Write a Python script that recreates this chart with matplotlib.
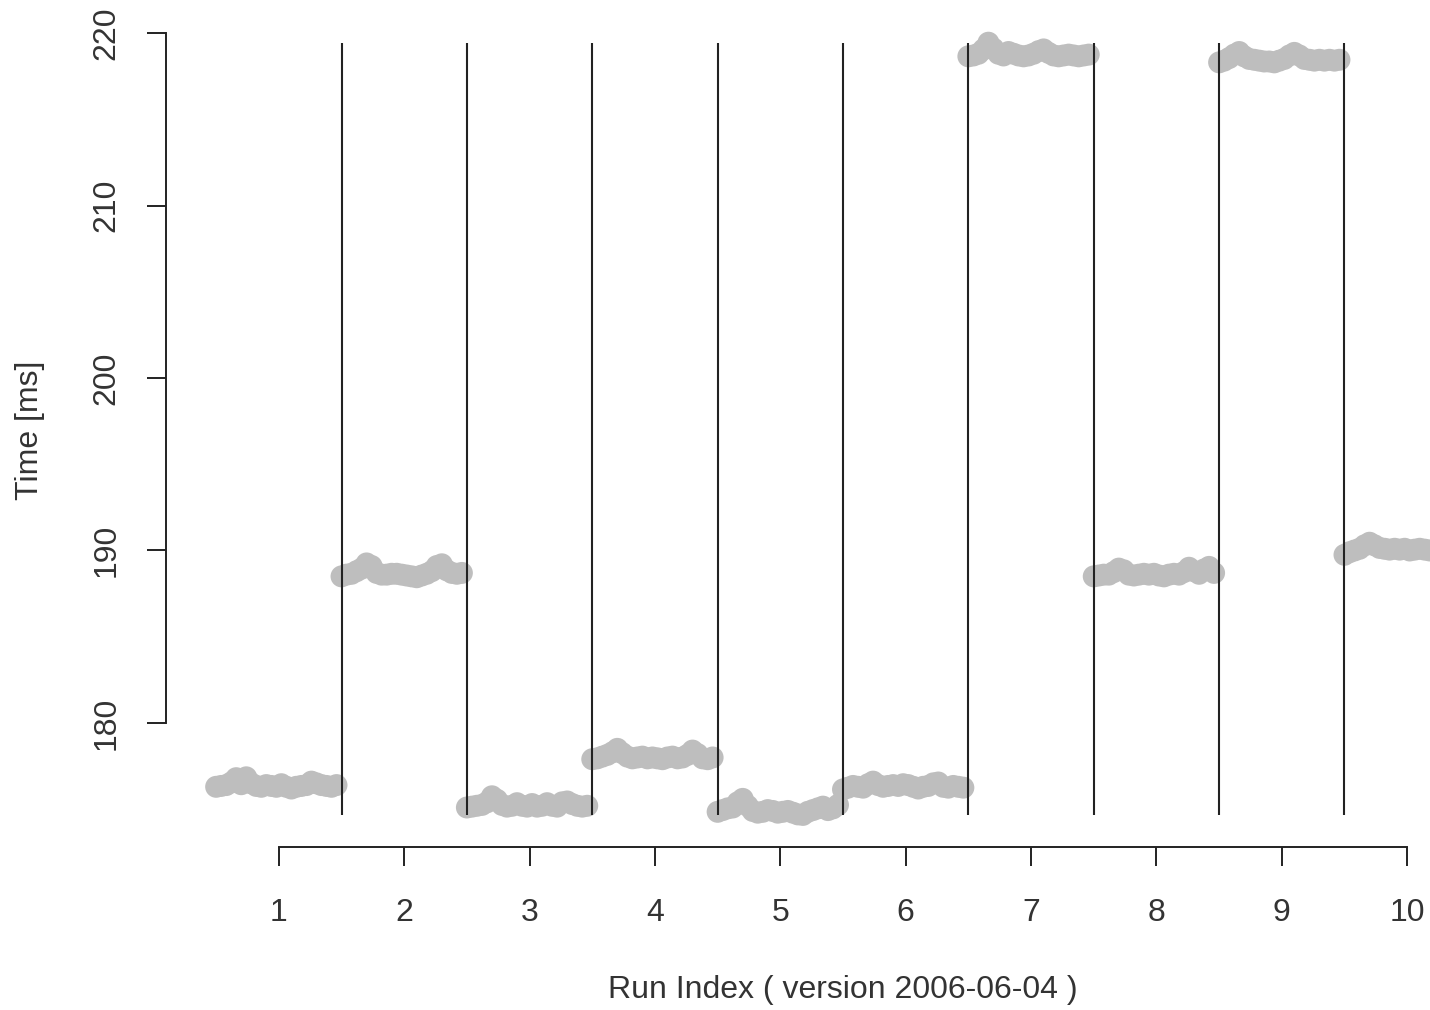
import numpy as np
import matplotlib
matplotlib.use('Agg')
import matplotlib.pyplot as plt

plt.rcParams['font.family'] = ['Liberation Sans', 'DejaVu Sans']

# timings per run (ms), one list per run index
run1 = [176.30, 176.35, 176.40, 176.55, 176.80, 176.45, 176.85, 176.50, 176.35, 176.30, 176.40, 176.35, 176.30,
        176.45, 176.30, 176.20, 176.30, 176.35, 176.40, 176.60, 176.50, 176.40, 176.35, 176.30, 176.40]
run2 = [188.50, 188.60, 188.65, 188.80, 188.95, 189.25, 189.10, 188.70, 188.60, 188.60, 188.65, 188.65, 188.60,
        188.55, 188.50, 188.45, 188.55, 188.65, 188.80, 189.10, 189.20, 188.85, 188.70, 188.65, 188.70]
run3 = [175.10, 175.15, 175.20, 175.25, 175.40, 175.75, 175.55, 175.25, 175.15, 175.20, 175.35, 175.20, 175.15,
        175.30, 175.15, 175.20, 175.35, 175.20, 175.15, 175.40, 175.45, 175.30, 175.20, 175.15, 175.20]
run4 = [177.90, 177.95, 178.05, 178.15, 178.30, 178.50, 178.25, 178.05, 177.95, 178.00, 178.05, 177.95, 178.00,
        177.95, 177.90, 178.00, 178.05, 177.95, 178.00, 178.15, 178.40, 178.20, 177.95, 177.90, 178.00]
run5 = [174.85, 174.95, 175.05, 175.10, 175.40, 175.60, 175.20, 174.90, 174.80, 174.85, 174.95, 174.90, 174.80,
        174.85, 174.90, 174.80, 174.70, 174.67, 174.85, 174.95, 175.05, 175.15, 174.95, 175.05, 175.25]
run6 = [176.15, 176.25, 176.35, 176.30, 176.25, 176.45, 176.60, 176.40, 176.30, 176.35, 176.40, 176.35, 176.45,
        176.40, 176.30, 176.20, 176.30, 176.35, 176.50, 176.55, 176.30, 176.25, 176.35, 176.30, 176.25]
run7 = [218.65, 218.70, 218.80, 219.05, 219.44, 219.10, 218.80, 218.70, 218.90, 218.80, 218.70, 218.65, 218.70,
        218.80, 218.95, 219.05, 218.85, 218.70, 218.65, 218.70, 218.75, 218.70, 218.65, 218.70, 218.75]
run8 = [188.50, 188.55, 188.60, 188.60, 188.75, 188.95, 188.85, 188.60, 188.55, 188.60, 188.65, 188.60, 188.65,
        188.55, 188.50, 188.60, 188.65, 188.60, 188.75, 189.00, 188.80, 188.65, 188.90, 189.05, 188.70]
run9 = [218.30, 218.40, 218.55, 218.75, 218.90, 218.65, 218.50, 218.45, 218.40, 218.35, 218.35, 218.30, 218.40,
        218.50, 218.70, 218.85, 218.70, 218.50, 218.45, 218.40, 218.45, 218.40, 218.45, 218.40, 218.45]
run10 = [189.75, 189.90, 190.00, 190.10, 190.30, 190.45, 190.30, 190.15, 190.10, 190.05, 190.10, 190.05, 190.10,
         190.00, 190.05, 190.10, 190.05, 190.00, 190.05, 190.05, 190.10, 190.00, 190.05, 190.00, 190.05]
runs = [run1, run2, run3, run4, run5, run6, run7, run8, run9, run10]
run_idx = list(range(1, 11))
y_ticks = [180, 190, 200, 210, 220]

W, H = 1430, 1010
fig = plt.figure(figsize=(W / 100, H / 100), dpi=100)
# plot region in pixels: left 166, right 1520 (runs past the image edge), top 12, bottom 847
ax = fig.add_axes([166 / W, 1 - 847 / H, (1520 - 166) / W, (847 - 12) / H])

for i, r in zip(run_idx, runs):
    n = len(r)
    xs = i - 0.5 + np.arange(n) / n
    ax.scatter(xs, r, s=250, color='#bebebe', edgecolors='none', zorder=2)

all_vals = np.concatenate(runs)
ax.vlines(np.array(run_idx[:-1]) + 0.5, all_vals.min(), all_vals.max(), color='#222222', lw=1.5, zorder=3)

ax.set_xlim(0.1, 10.9)
ax.set_ylim(172.81, 221.22)

for s in ['top', 'right']:
    ax.spines[s].set_visible(False)
ax.spines['left'].set_bounds(180, 220)
ax.spines['bottom'].set_bounds(1, 10)
for s in ['left', 'bottom']:
    ax.spines[s].set_linewidth(1.4)
    ax.spines[s].set_color('#222222')

ax.set_xticks(run_idx)
ax.set_yticks(y_ticks)
ax.tick_params(axis='both', length=14, width=1.4, color='#222222', labelsize=23, labelcolor='#333333')
ax.tick_params(axis='x', pad=23)
ax.tick_params(axis='y', pad=18)
for lab in ax.get_yticklabels():
    lab.set_rotation(90)
    lab.set_va('center')

fig.text(843 / W, 1 - 990 / H, 'Run Index ( version 2006-06-04 )', ha='center', va='center',
         fontsize=23, color='#333333')
fig.text(30 / W, 1 - 430 / H, 'Time [ms]', ha='center', va='center', rotation=90,
         fontsize=23, color='#333333')

fig.savefig('out.png', dpi=100)
